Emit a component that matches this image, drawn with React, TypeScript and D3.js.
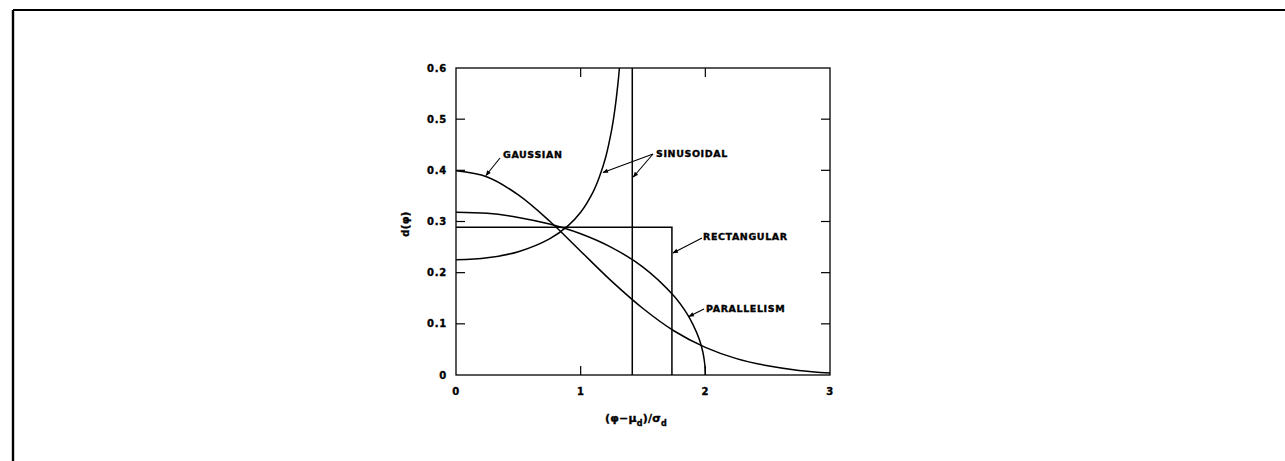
import React from "react";
import * as d3 from "d3";

// ---- data ----
const gaussianX = [0, 0.25, 0.5, 0.75, 1.0, 1.25, 1.5, 1.75, 2.0, 2.25, 2.5, 2.75, 3.0];
const gaussianY = [0.399, 0.387, 0.352, 0.301, 0.242, 0.183, 0.13, 0.086, 0.054, 0.032, 0.018, 0.009, 0.004];

const sinusoidalX = [0, 0.25, 0.5, 0.75, 0.9, 1.0, 1.1, 1.15, 1.2, 1.25, 1.275, 1.3, 1.311];
const sinusoidalY = [0.225, 0.229, 0.241, 0.266, 0.292, 0.318, 0.358, 0.387, 0.425, 0.481, 0.52, 0.572, 0.6];
const sinusoidalLimit = 1.414;

const parallelX = [0, 0.25, 0.5, 0.75, 1.0, 1.25, 1.5, 1.75, 1.85, 1.9, 1.95, 1.98, 1.995, 2.0];
const parallelY = [0.318, 0.316, 0.308, 0.295, 0.276, 0.249, 0.211, 0.154, 0.121, 0.099, 0.071, 0.045, 0.022, 0];

const rectWidth = 1.732;
const rectHeight = 0.2887;

const xTicks = [0, 1, 2, 3];
const yTicks = [0, 0.1, 0.2, 0.3, 0.4, 0.5, 0.6];
const yTickLabels = ["0", "0.1", "0.2", "0.3", "0.4", "0.5", "0.6"];

export default function App() {
  const W = 1285, H = 461;
  const left = 456, right = 830, top = 68, bottom = 375;
  const x = d3.scaleLinear().domain([0, 3]).range([left, right]);
  const y = d3.scaleLinear().domain([0, 0.6]).range([bottom, top]);
  const line = d3
    .line<[number, number]>()
    .x((d) => x(d[0]))
    .y((d) => y(d[1]))
    .curve(d3.curveCatmullRom.alpha(0.5));
  const straight = d3
    .line<[number, number]>()
    .x((d) => x(d[0]))
    .y((d) => y(d[1]));

  const gauss = gaussianX.map((v, i) => [v, gaussianY[i]] as [number, number]);
  const sinus = sinusoidalX.map((v, i) => [v, sinusoidalY[i]] as [number, number]);
  const par = parallelX.map((v, i) => [v, parallelY[i]] as [number, number]);
  const rect: [number, number][] = [
    [0, rectHeight],
    [rectWidth, rectHeight],
    [rectWidth, 0],
  ];
  const sinusVert: [number, number][] = [
    [sinusoidalLimit, 0],
    [sinusoidalLimit, 0.6],
  ];

  const font = "'DejaVu Sans', 'Liberation Sans', Arial, sans-serif";
  const sw = 1.5;
  const tickLen = 9;

  const labelStyle = {
    fontFamily: font,
    fontWeight: 700,
    fontSize: 9.5,
    letterSpacing: 0.6,
    stroke: "#000",
    strokeWidth: 0.35,
  } as React.CSSProperties;

  return (
    <svg width={W} height={H} style={{ position: "absolute", left: 0, top: 0, background: "#fff" }}>
      <defs>
        <marker id="arr" viewBox="0 0 10 10" refX="9" refY="5" markerWidth="6" markerHeight="5" orient="auto">
          <path d="M0,1 L10,5 L0,9 z" fill="#000" />
        </marker>
        <clipPath id="plot">
          <rect x={left} y={top} width={right - left} height={bottom - top} />
        </clipPath>
      </defs>

      {/* outer frame */}
      <line x1={13} y1={10} x2={W} y2={10} stroke="#000" strokeWidth={2.2} />
      <line x1={13} y1={10} x2={13} y2={H} stroke="#000" strokeWidth={2.4} />

      {/* plot box */}
      <rect x={left} y={top} width={right - left} height={bottom - top} fill="none" stroke="#000" strokeWidth={1.3} />

      {/* ticks */}
      {yTicks.slice(1, -1).map((t) => (
        <g key={"yt" + t}>
          <line x1={left} x2={left + tickLen} y1={y(t)} y2={y(t)} stroke="#000" strokeWidth={1.2} />
          <line x1={right} x2={right - tickLen} y1={y(t)} y2={y(t)} stroke="#000" strokeWidth={1.2} />
        </g>
      ))}
      {xTicks.slice(1, -1).map((t) => (
        <g key={"xt" + t}>
          <line x1={x(t)} x2={x(t)} y1={bottom} y2={bottom - tickLen} stroke="#000" strokeWidth={1.2} />
          <line x1={x(t)} x2={x(t)} y1={top} y2={top + tickLen} stroke="#000" strokeWidth={1.2} />
        </g>
      ))}

      {/* tick labels */}
      {yTicks.map((t, i) => (
        <text key={"yl" + t} x={left - 9} y={y(t)} dy="0.36em" textAnchor="end" style={{ ...labelStyle, fontSize: 10, letterSpacing: 0.8 }}>
          {yTickLabels[i]}
        </text>
      ))}
      {xTicks.map((t) => (
        <text key={"xl" + t} x={x(t)} y={395} textAnchor="middle" style={{ ...labelStyle, fontSize: 10 }}>
          {t}
        </text>
      ))}

      {/* curves */}
      <g clipPath="url(#plot)" fill="none" stroke="#000" strokeWidth={sw}>
        <path d={line(gauss) || ""} />
        <path d={line(sinus) || ""} />
        <path d={line(par) || ""} />
        <path d={straight(rect) || ""} />
        <path d={straight(sinusVert) || ""} />
      </g>

      {/* annotations */}
      <g stroke="#000" strokeWidth={1.1} fill="none">
        <line x1={500} y1={158} x2={x(0.24)} y2={y(0.388) - 1} markerEnd="url(#arr)" />
        <line x1={653} y1={154} x2={603} y2={172.5} markerEnd="url(#arr)" />
        <line x1={653} y1={154} x2={x(sinusoidalLimit) + 1} y2={177} markerEnd="url(#arr)" />
        <line x1={702} y1={238} x2={x(rectWidth) + 1} y2={253} markerEnd="url(#arr)" />
        <line x1={704} y1={309} x2={x(1.86) + 1} y2={316.5} markerEnd="url(#arr)" />
      </g>
      <text x={503} y={157.5} style={labelStyle}>GAUSSIAN</text>
      <text x={656} y={157} style={labelStyle}>SINUSOIDAL</text>
      <text x={703} y={240} style={labelStyle}>RECTANGULAR</text>
      <text x={706} y={312} style={labelStyle}>PARALLELISM</text>

      {/* axis titles */}
      <text
        transform={`translate(409,224) rotate(-90)`}
        textAnchor="middle"
        style={{ ...labelStyle, fontSize: 10, letterSpacing: 0.3 }}
      >
        d(φ)
      </text>
      <text x={636} y={422} textAnchor="middle" style={{ ...labelStyle, fontSize: 11, letterSpacing: 0.2 }}>
        (φ−μ<tspan dy={4} fontSize={8}>d</tspan>
        <tspan dy={-4}>)/σ</tspan>
        <tspan dy={4} fontSize={8}>d</tspan>
      </text>
    </svg>
  );
}
